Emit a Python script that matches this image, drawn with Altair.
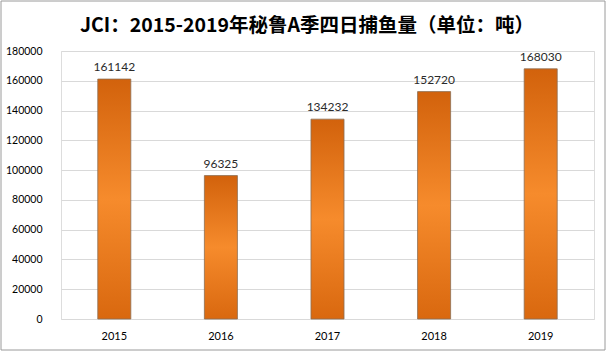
import altair as alt
import pandas as pd

years = ["2015", "2016", "2017", "2018", "2019"]
catch = [161142, 96325, 134232, 152720, 168030]
title_text = ["JCI：2015-2019年秘鲁A季四日捕鱼量（单位：吨）"]

df = pd.DataFrame({"year": years, "catch": catch})
tdf = pd.DataFrame({"t": title_text})

grad = alt.Gradient(
    gradient="linear", x1=0, y1=0, x2=0, y2=1,
    stops=[
        alt.GradientStop(color="#D2620C", offset=0),
        alt.GradientStop(color="#F68B2C", offset=0.5),
        alt.GradientStop(color="#D9680F", offset=1),
    ],
)

base = alt.Chart(df).encode(
    x=alt.X("year:N", sort=years, title=None,
            scale=alt.Scale(paddingInner=0.69, paddingOuter=0.345),
            axis=alt.Axis(labelAngle=0, ticks=False, domain=False, labelPadding=11,
                          labelFont="Lato", labelFontSize=11, labelColor="#000000")),
    y=alt.Y("catch:Q", title=None,
            scale=alt.Scale(domain=[0, 180000], nice=False),
            axis=alt.Axis(values=list(range(0, 180001, 20000)), ticks=False, domain=False,
                          format="d", labelPadding=19, labelFont="Lato", labelFontSize=10.5,
                          labelColor="#000000", gridColor="#D9D9D9", gridWidth=1)),
)

bars = base.mark_bar(color=grad, stroke="#8C6E55", strokeWidth=0.8)
labels = base.mark_text(dy=-12, font="Lato", fontSize=12, color="#2A2A2A").encode(text="catch:Q")

frame = alt.Chart(tdf).mark_rect(fill=None, stroke="#9A9A9A", strokeWidth=1).encode(
    x=alt.value(-60), x2=alt.value(544), y=alt.value(-50), y2=alt.value(299)
)

title = alt.Chart(tdf).mark_text(
    font="Noto Sans CJK SC", fontSize=19.5, fontWeight="bold", color="#000000",
    align="center", baseline="middle",
).encode(text="t:N", x=alt.value(246), y=alt.value(-25))

chart = alt.layer(frame, bars, labels, title).properties(
    width=533, height=268,
    autosize=alt.AutoSizeParams(type="none"),
    padding={"left": 61, "top": 51, "right": 14, "bottom": 34},
).configure_view(stroke="#868686", strokeWidth=1).configure(background="white")

chart.save("out.html", embed_options={"renderer": "svg", "actions": False})
